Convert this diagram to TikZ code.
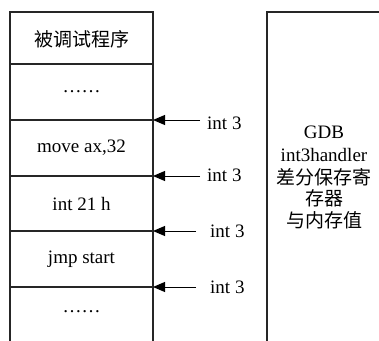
\documentclass[tikz,border=0pt]{standalone}
\usepackage{fontspec}
\setmainfont{Liberation Serif}
\newfontfamily\latn{Liberation Serif}
\newfontfamily\cjk{Noto Sans CJK SC}
\usetikzlibrary{arrows.meta}
\begin{document}
\begin{tikzpicture}[x=1pt,y=-1pt,
  font=\fontsize{19}{22.5}\selectfont,
  frame/.style={line width=1.1pt,draw=black!85},
  cell/.style={inner sep=0pt,anchor=center},
  lbl/.style={inner sep=0pt,anchor=west},
  arr/.style={line width=1pt,-{Triangle[length=12pt,width=10pt]}}]
\useasboundingbox (0,0) rectangle (379,340);
\begin{scope}
\clip (0,0) rectangle (379,340);
% left column
\draw[frame] (10,345) -- (10,12) -- (153,12) -- (153,345);
\coordinate (e1) at (153,120);
\coordinate (e2) at (153,176);
\coordinate (e3) at (153,231);
\coordinate (e4) at (153,287);
\draw[frame] (10,64) -- (153,64);
\draw[frame] (10,120) -- (e1);
\draw[frame] (10,176) -- (e2);
\draw[frame] (10,231) -- (e3);
\draw[frame] (10,287) -- (e4);
% right box
\draw[frame] (267,345) -- (267,12) -- (385,12);
\end{scope}
\node[cell] (c0) at (81.5,39) {\cjk 被调试程序};
\node[cell] (c1) at (81.5,92) {\latn ……};
\node[cell] (c2) at (81.5,148) {\latn move ax,32};
\node[cell] (c3) at (81.5,204) {\latn int 21 h};
\node[cell] (c4) at (81.5,259) {\latn jmp start};
\node[cell] (c5) at (81.5,312) {\latn ……};
\node[lbl] (l1) at (207,123) {\latn int 3};
\node[lbl] (l2) at (207,175) {\latn int 3};
\node[lbl] (l3) at (210,231) {\latn int 3};
\node[lbl] (l4) at (210,287) {\latn int 3};
\coordinate (s1) at (200,120);
\coordinate (s2) at (200,176);
\coordinate (s3) at (196,231);
\coordinate (s4) at (196,287);
\draw[arr] (s1) -- (e1);
\draw[arr] (s2) -- (e2);
\draw[arr] (s3) -- (e3);
\draw[arr] (s4) -- (e4);
\node[cell] (g1) at (324,132) {\latn GDB};
\node[cell] (g2) at (324,155) {\latn int3handler};
\node[cell] (g3) at (324,177) {\cjk 差分保存寄};
\node[cell] (g4) at (324,198) {\cjk 存器};
\node[cell] (g5) at (324,220) {\cjk 与内存值};
\end{tikzpicture}
\end{document}
